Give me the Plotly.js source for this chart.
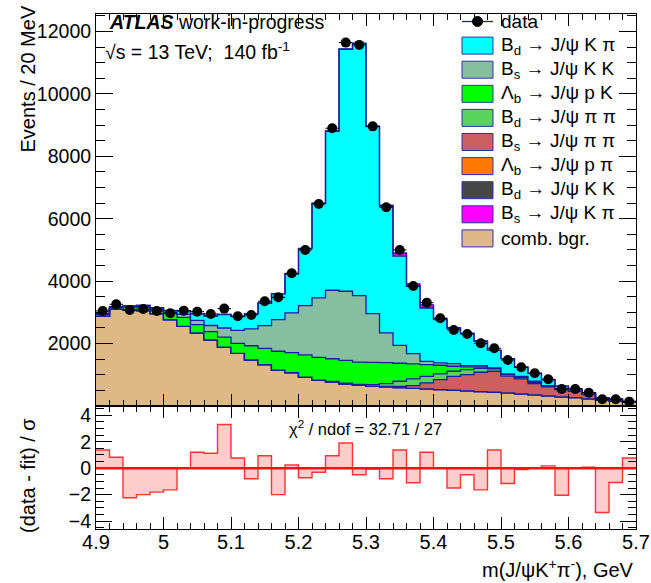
<!DOCTYPE html>
<html>
<head>
<meta charset="utf-8">
<script src="https://cdn.plot.ly/plotly-3.0.1.min.js"></script>
<style>html,body{margin:0;padding:0;background:#fff;}#chart{width:651px;height:583px;}</style>
</head>
<body>
<div id="chart"></div>
<script>
// ---- bins (low edges, GeV) ----
const binLow = [4.90,4.92,4.94,4.96,4.98,5.00,5.02,5.04,5.06,5.08,
                5.10,5.12,5.14,5.16,5.18,5.20,5.22,5.24,5.26,5.28,
                5.30,5.32,5.34,5.36,5.38,5.40,5.42,5.44,5.46,5.48,
                5.50,5.52,5.54,5.56,5.58,5.60,5.62,5.64,5.66,5.68];
const binWidth = 0.02;

// ---- data (events / 20 MeV) ----
const dataCounts = [3045,3259,3077,3109,3045,2970,3055,3023,2949,3120,
                    2874,2917,3355,3483,4253,5000,6474,8900,11644,11570,
                    8960,6368,5000,3846,3311,2810,2436,2308,2009,1849,
                    1474,1240,1048,856,545,545,427,214,214,139];

// ---- fit components (stacked, bottom to top) ----
const combBgr = [2876,3112,3070,3060,2960,2770,2554,2342,2117,1887,
                 1685,1477,1327,1150,1070,926,830,777,712,659,
                 632,611,590,567,547,526,504,483,462,440,
                 419,387,355,323,291,269,227,184,150,118];
const bdKK    = [0,0,0,0,0,0,0,0,0,0, 0,0,0,0,0,0,0,0,0,0, 0,0,0,0,0,0,0,0,0,0, 0,0,0,0,0,0,0,0,0,0];
const lbPPi   = [0,0,0,0,0,0,0,0,0,0, 0,0,0,0,0,0,0,0,0,0, 0,0,0,0,0,0,0,0,0,0, 0,0,0,0,0,0,0,0,0,0];
const bsPiPi  = [0,0,0,0,0,0,0,0,0,0, 0,0,0,0,0,0,0,0,0,0,
                 8,21,42,87,192,320,448,523,619,673,
                 541,481,363,288,235,202,138,65,34,22];
const bdPiPi  = [0,0,0,0,0,0,0,0,0,0, 0,0,0,0,0,0,0,13,23,36,
                 46,86,161,214,213,182,161,161,128,75,
                 50,45,42,19,14,7,5,3,2,1];
const lbPK    = [53,38,100,120,136,218,286,267,263,322,
                 320,453,518,605,641,710,727,724,725,712,
                 714,672,577,482,375,277,160,85,43,21,
                 10,15,15,10,8,4,3,2,1,1];
const bsKK    = [3,4,6,8,12,20,96,137,200,290,
                 420,540,732,1014,1272,1582,1907,2195,2216,2131,
                 1560,952,574,329,105,75,86,43,43,11,
                 5,17,18,14,7,4,3,2,1,1];
const bdKPi   = [20,25,30,35,40,50,114,206,304,433,
                 442,486,720,827,1249,1827,3028,5094,7754,8074,
                 5995,4058,2856,2151,1708,1390,1131,1027,780,565,
                 490,297,254,190,80,60,49,12,40,2];
const bsKPi   = [5,7,2,3,3,4,5,5,4,4,
                 3,4,4,5,5,6,7,8,9,12,
                 15,32,103,84,102,40,20,10,7,5,
                 4,2,1,1,1,1,1,1,2,0];

// ---- pulls (data - fit)/sigma ----
const pulls = [1.37,0.82,-2.24,-2.0,-1.81,-1.64,0,1.2,1.13,3.3,
               0.77,-0.8,0.94,-2.0,0.24,-0.72,-0.31,0.94,1.9,-0.5,
               -0.07,-0.8,1.37,-1.1,1.2,0,-1.5,-0.5,-1.64,1.37,
               -1.16,-0.1,0,0.17,-2.05,0,0.07,-3.35,-1.08,0.77];

// ---- legend labels ----
const labelData = "data";
const seriesLabels = ["B<sub>d</sub> → J/ψ K π","B<sub>s</sub> → J/ψ K K","Λ<sub>b</sub> → J/ψ p K",
                      "B<sub>d</sub> → J/ψ π π","B<sub>s</sub> → J/ψ π π","Λ<sub>b</sub> → J/ψ p π",
                      "B<sub>d</sub> → J/ψ K K","B<sub>s</sub> → J/ψ K π","comb. bgr."];
const seriesColors = ["#00ffff","#86bfa0","#00ff00","#5ad45a","#cc5f60","#ff7a00","#474747","#ff00ff","#deb887"];
const seriesData = [bdKPi,bsKK,lbPK,bdPiPi,bsPiPi,lbPPi,bdKK,bsKPi,combBgr];
// stacking order, bottom -> top (indices into the lists above)
const stackOrder = [8,6,5,4,3,2,1,0,7];

const FONT = "Liberation Sans, Arial, Helvetica, sans-serif";
const NAVY = "#1c1ca0";

const edges = binLow.concat([+(binLow[binLow.length-1] + binWidth).toFixed(2)]);
const stepY = a => a.concat([a[a.length-1]]);
const centers = binLow.map(v => v + binWidth/2);

const traces = [];
stackOrder.forEach(i => {
  traces.push({
    type: "scatter", x: edges, y: stepY(seriesData[i]), mode: "lines",
    stackgroup: "fit", line: {shape: "hv", color: NAVY, width: 1.3},
    fillcolor: seriesColors[i], name: seriesLabels[i], xaxis: "x", yaxis: "y", hoverinfo: "skip"
  });
});
traces.push({
  type: "scatter", x: centers, y: dataCounts, mode: "markers", name: labelData,
  marker: {color: "black", size: 10, symbol: "circle"},
  error_x: {type: "constant", value: binWidth/2, width: 0, thickness: 1, color: "black"},
  error_y: {type: "sqrt", width: 0, thickness: 1, color: "black"},
  xaxis: "x", yaxis: "y"
});
traces.push({
  type: "scatter", x: edges, y: stepY(pulls), mode: "lines",
  line: {shape: "hv", color: "rgba(255,30,30,0.9)", width: 1.4},
  fill: "tozeroy", fillcolor: "rgba(255,0,0,0.2)", xaxis: "x2", yaxis: "y2", hoverinfo: "skip"
});

// layout geometry
const L = 96, R = 15, T = 14, B = 54, W = 651, H = 583;
const pw = W - L - R, ph = H - T - B;
const split = (T + ph - 406) / ph; // lower panel fraction
const px2x = x => (x - L) / pw;
const py2y = y => (T + ph - y) / ph;

const axBase = {
  showline: true, linecolor: "black", linewidth: 1, mirror: "ticks",
  ticks: "inside", tickcolor: "black", showgrid: false, zeroline: false,
  tickfont: {family: FONT, size: 19.5, color: "black"}
};

const layout = {
  width: W, height: H, margin: {l: L, r: R, t: T, b: B},
  paper_bgcolor: "white", plot_bgcolor: "white", showlegend: false,
  font: {family: FONT, color: "black"},
  xaxis: Object.assign({}, axBase, {domain: [0,1], anchor: "y", range: [4.9, 5.7], matches: "x2",
    showticklabels: false, tickmode: "linear", tick0: 4.9, dtick: 0.1, ticklen: 12,
    minor: {tickmode: "linear", tick0: 4.9, dtick: 0.02, ticklen: 6, ticks: "inside", tickcolor: "black"}}),
  yaxis: Object.assign({}, axBase, {domain: [split, 1], anchor: "x", range: [0, 12560],
    tickmode: "array", tickvals: [2000,4000,6000,8000,10000,12000], tickformat: "d", ticklen: 17,
    minor: {tickmode: "linear", tick0: 0, dtick: 500, ticklen: 9, ticks: "inside", tickcolor: "black"}}),
  xaxis2: Object.assign({}, axBase, {domain: [0,1], anchor: "y2", range: [4.9, 5.7],
    tickmode: "linear", tick0: 4.9, dtick: 0.1, ticklen: 12, ticklabelstandoff: -5,
    tickfont: {family: FONT, size: 20, color: "black"},
    minor: {tickmode: "linear", tick0: 4.9, dtick: 0.02, ticklen: 6, ticks: "inside", tickcolor: "black"}}),
  yaxis2: Object.assign({}, axBase, {domain: [0, split], anchor: "x2", range: [-4.6, 4.7],
    tickmode: "array", tickvals: [-4,-2,0,2,4], ticklen: 16,
    minor: {tickmode: "linear", tick0: 0, dtick: 0.5, ticklen: 8, ticks: "inside", tickcolor: "black"}}),
  shapes: [
    {type: "line", xref: "x2 domain", yref: "y2", x0: 0, x1: 1, y0: 0, y1: 0,
     line: {color: "#ff1010", width: 2.5}}
  ],
  annotations: [
    {xref: "paper", yref: "paper", x: px2x(107), y: py2y(22), xanchor: "left", yanchor: "middle",
     text: "<b><i>ATLAS</i></b> work-in-progress", showarrow: false, font: {family: FONT, size: 19.5}},
    {xref: "paper", yref: "paper", x: px2x(103), y: py2y(51), xanchor: "left", yanchor: "middle",
     text: "√s = 13 TeV;  140 fb<sup>-1</sup>", showarrow: false, font: {family: FONT, size: 19.5}},
    {xref: "paper", yref: "paper", x: px2x(365), y: py2y(428), xanchor: "center", yanchor: "middle",
     text: "χ<sup>2</sup> / ndof = 32.71 / 27", showarrow: false, font: {family: FONT, size: 16.5}},
    {xref: "paper", yref: "paper", x: px2x(27), y: py2y(4), xanchor: "center", yanchor: "top", textangle: -90,
     text: "Events / 20 MeV", showarrow: false, font: {family: FONT, size: 20}},
    {xref: "paper", yref: "paper", x: px2x(28), y: py2y(476), xanchor: "center", yanchor: "middle", textangle: -90,
     text: "(data - fit) / σ", showarrow: false, font: {family: FONT, size: 20}},
    {xref: "paper", yref: "paper", x: 1, y: py2y(568), xanchor: "right", yanchor: "middle",
     text: "m(J/ψK<sup>+</sup>π<sup>-</sup>), GeV", showarrow: false, font: {family: FONT, size: 20}}
  ]
};

// custom legend
const legX0 = 462, legX1 = 493, legTx = 499, legY0 = 21.5, legDy = 24.1;
// data row
layout.shapes.push({type: "line", xref: "paper", yref: "paper", x0: px2x(legX0), x1: px2x(legX1),
  y0: py2y(legY0), y1: py2y(legY0), line: {color: NAVY, width: 1.3}});
layout.shapes.push({type: "circle", xref: "paper", yref: "paper", x0: px2x(477.5 - 5), x1: px2x(477.5 + 5),
  y0: py2y(legY0 + 5), y1: py2y(legY0 - 5), fillcolor: "black", line: {color: "black", width: 1}});
layout.annotations.push({xref: "paper", yref: "paper", x: px2x(legTx), y: py2y(legY0), xanchor: "left",
  yanchor: "middle", text: labelData, showarrow: false, font: {family: FONT, size: 19}});
seriesLabels.forEach((lab, k) => {
  const cy = legY0 + legDy * (k + 1);
  layout.shapes.push({type: "rect", xref: "paper", yref: "paper", x0: px2x(legX0), x1: px2x(legX1),
    y0: py2y(cy + 8.5), y1: py2y(cy - 8.5), fillcolor: seriesColors[k], line: {color: "#3030b0", width: 1}});
  layout.annotations.push({xref: "paper", yref: "paper", x: px2x(legTx), y: py2y(cy), xanchor: "left",
    yanchor: "middle", text: lab, showarrow: false, font: {family: FONT, size: 19}});
});

Plotly.newPlot("chart", traces, layout, {displayModeBar: false, staticPlot: true});
</script>
</body>
</html>
